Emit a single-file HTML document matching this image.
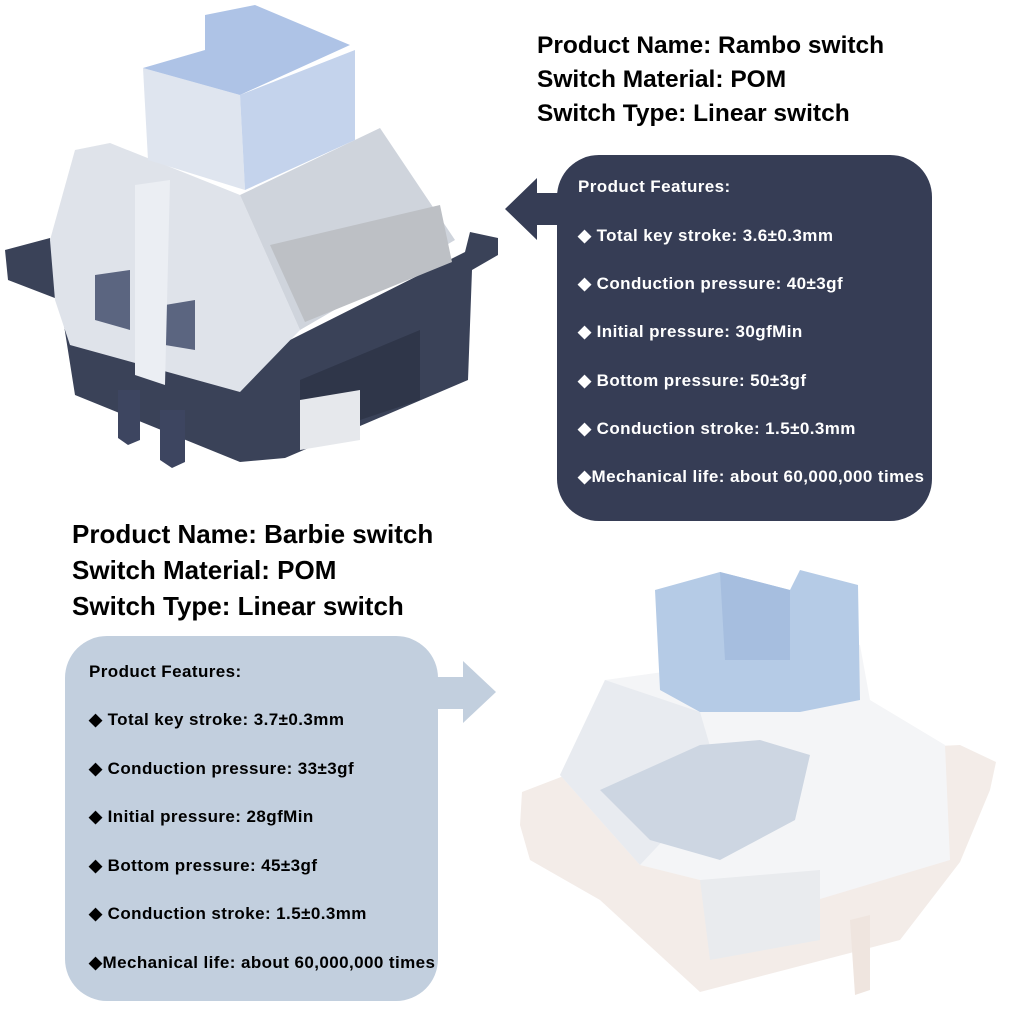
<!DOCTYPE html>
<html><head><meta charset="utf-8"><style>
html,body{margin:0;padding:0;background:#fff;}
body{width:1024px;height:1024px;position:relative;overflow:hidden;font-family:"Liberation Sans",Arial,sans-serif;}
.t{position:absolute;font-weight:bold;white-space:nowrap;line-height:1;}
.h1{font-size:24.5px;color:#000;}
.h2{font-size:26px;color:#000;}
.f{font-size:17px;letter-spacing:0.42px;}
svg{position:absolute;left:0;top:0;}
</style></head><body>
<svg width="1024" height="1024" viewBox="0 0 1024 1024">
<rect x="557" y="155" width="375" height="366" rx="42" fill="#363d55"/>
<polygon points="505,209 537,178 537,193 560,193 560,225 537,225 537,240" fill="#363d55"/>
<rect x="65" y="636" width="373" height="365" rx="42" fill="#c2cfde"/>
<polygon points="430,677 463,677 463,661 496,692 463,723 463,709 430,709" fill="#c2cfde"/>

<!-- Rambo switch -->
<polygon points="5,250 50,238 60,300 230,345 290,340 465,252 470,232 498,238 498,255 472,270 468,380 285,458 240,462 75,395 60,300 8,280" fill="#3a4258"/>
<polygon points="118,390 140,390 140,440 128,445 118,438" fill="#3d4560"/>
<polygon points="160,410 185,410 185,462 172,468 160,460" fill="#3d4560"/>
<polygon points="300,380 420,330 420,400 300,440" fill="#2f3649"/>
<polygon points="50,240 75,150 110,143 240,195 300,330 240,392 70,345 55,300" fill="#dfe3ea"/>
<polygon points="95,275 130,270 130,330 95,320" fill="#5b6580"/>
<polygon points="165,305 195,300 195,350 165,345" fill="#5b6580"/>
<polygon points="135,185 170,180 165,385 135,375" fill="#ebeef3"/>
<polygon points="240,195 380,128 455,240 300,330" fill="#cfd4dc"/>
<polygon points="270,245 440,205 452,262 305,322" fill="#bdc0c5"/>
<polygon points="143,68 240,95 245,190 148,160" fill="#dfe5ef"/>
<polygon points="240,95 355,50 355,140 245,190" fill="#c4d3ec"/>
<polygon points="143,68 205,50 205,15 255,5 350,45 240,95" fill="#aec3e6"/>
<polygon points="300,400 360,390 360,440 300,450" fill="#e6e8ec"/>

<!-- Barbie switch -->
<polygon points="522,792 600,762 960,745 996,762 990,790 960,862 900,940 700,992 600,900 530,860 520,825" fill="#f3ece8"/>
<polygon points="605,680 860,645 870,700 945,745 950,860 800,905 640,865 560,775" fill="#f4f5f7"/>
<polygon points="560,775 605,680 700,712 720,780 640,865" fill="#e8ebf0"/>
<polygon points="600,790 700,745 760,740 810,755 795,820 720,860 650,840" fill="#cdd6e2"/>
<polygon points="655,590 720,572 790,590 800,570 858,585 860,700 800,712 700,712 660,690" fill="#b5cbe6"/>
<polygon points="720,572 790,590 790,660 725,660" fill="#a6bedf"/>
<polygon points="700,880 820,870 820,940 710,960" fill="#e9ebee"/>
<polygon points="850,920 870,915 870,990 855,995" fill="#efe5df"/>
</svg>

<div class="t h1" style="left:537px;top:34px;">Product Name: Rambo switch</div>
<div class="t h1" style="left:537px;top:68px;">Switch Material: POM</div>
<div class="t h1" style="left:537px;top:102px;">Switch Type: Linear switch</div>

<div class="t f" style="left:578px;top:178px;color:#fff;">Product Features:</div>
<div class="t f" style="left:578px;top:227px;color:#fff;">◆ Total key stroke: 3.6±0.3mm</div>
<div class="t f" style="left:578px;top:275px;color:#fff;">◆ Conduction pressure: 40±3gf</div>
<div class="t f" style="left:578px;top:323px;color:#fff;">◆ Initial pressure: 30gfMin</div>
<div class="t f" style="left:578px;top:372px;color:#fff;">◆ Bottom pressure: 50±3gf</div>
<div class="t f" style="left:578px;top:420px;color:#fff;">◆ Conduction stroke: 1.5±0.3mm</div>
<div class="t f" style="left:578px;top:468px;color:#fff;">◆Mechanical life: about 60,000,000 times</div>

<div class="t h2" style="left:72px;top:521px;">Product Name: Barbie switch</div>
<div class="t h2" style="left:72px;top:557px;">Switch Material: POM</div>
<div class="t h2" style="left:72px;top:593px;">Switch Type: Linear switch</div>

<div class="t f" style="left:89px;top:663px;color:#000;">Product Features:</div>
<div class="t f" style="left:89px;top:711px;color:#000;">◆ Total key stroke: 3.7±0.3mm</div>
<div class="t f" style="left:89px;top:760px;color:#000;">◆ Conduction pressure: 33±3gf</div>
<div class="t f" style="left:89px;top:808px;color:#000;">◆ Initial pressure: 28gfMin</div>
<div class="t f" style="left:89px;top:857px;color:#000;">◆ Bottom pressure: 45±3gf</div>
<div class="t f" style="left:89px;top:905px;color:#000;">◆ Conduction stroke: 1.5±0.3mm</div>
<div class="t f" style="left:89px;top:954px;color:#000;">◆Mechanical life: about 60,000,000 times</div>
</body></html>
